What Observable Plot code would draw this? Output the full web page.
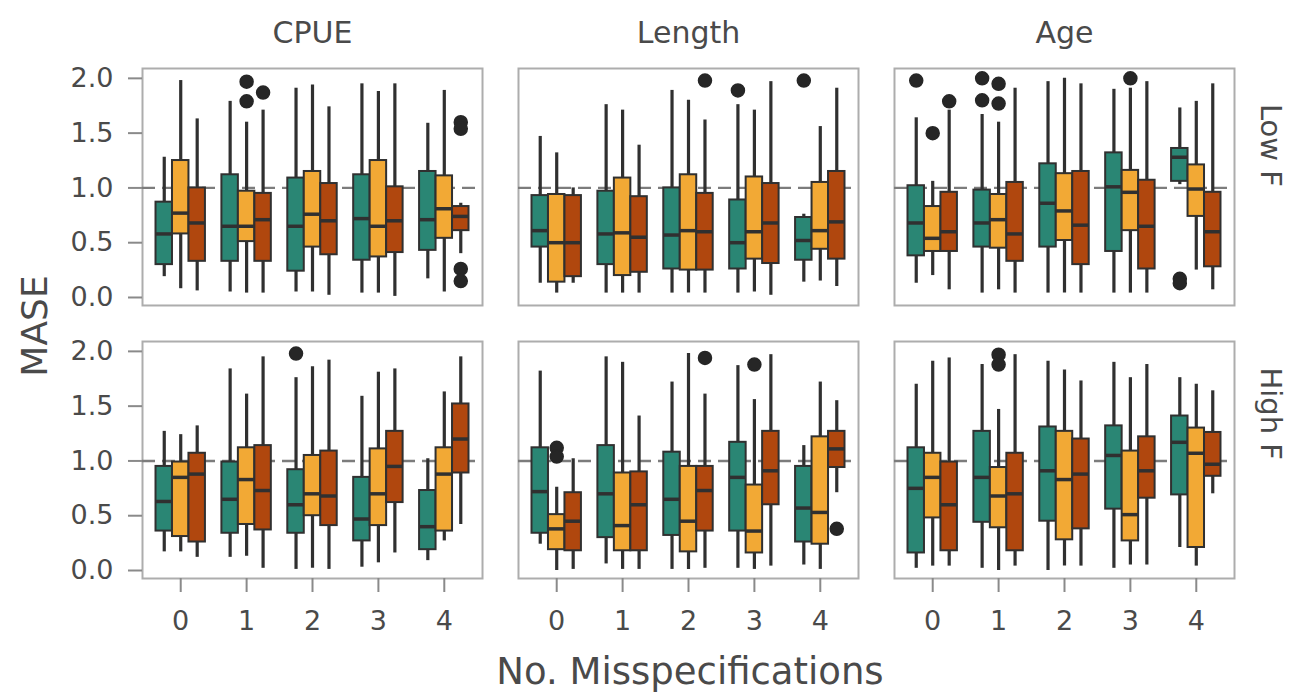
<!DOCTYPE html>
<html>
<head>
<meta charset="utf-8">
<script src="https://cdn.jsdelivr.net/npm/d3@7"></script>
<script src="https://cdn.jsdelivr.net/npm/@observablehq/plot@0.6"></script>
<style>
  html, body { margin: 0; padding: 0; background: #fff; }
  #chart { width: 1304px; height: 696px; }
</style>
</head>
<body>
<div id="chart"></div>
<script>
// Facet layout: columns are data sources, rows are fishing levels
const metrics = ["CPUE", "Length", "Age"];
const fLevels = ["Low F", "High F"];
const misspec = [0, 1, 2, 3, 4];
const variants = ["A", "B", "C"];
const yTicks = [0, 0.5, 1, 1.5, 2];

// Box statistics per misspecification count, three variants each:
// [lower whisker, q1, median, q3, upper whisker]
const cpueLowF = [
  [0.19, 0.30, 0.58, 0.87, 1.28], [0.08, 0.58, 0.77, 1.25, 1.98], [0.06, 0.33, 0.68, 1.00, 1.63],
  [0.05, 0.33, 0.65, 1.12, 1.79], [0.04, 0.51, 0.65, 0.97, 1.60], [0.04, 0.33, 0.71, 0.95, 1.71],
  [0.05, 0.24, 0.65, 1.09, 1.91], [0.05, 0.46, 0.76, 1.15, 1.94], [0.02, 0.39, 0.70, 1.04, 1.74],
  [0.04, 0.34, 0.72, 1.12, 1.95], [0.04, 0.37, 0.65, 1.25, 1.88], [0.01, 0.41, 0.70, 1.01, 1.95],
  [0.17, 0.43, 0.71, 1.15, 1.59], [0.05, 0.54, 0.81, 1.11, 1.89], [0.40, 0.61, 0.74, 0.83, 0.86]
];
const lengthLowF = [
  [0.13, 0.46, 0.61, 0.93, 1.47], [0.04, 0.14, 0.50, 0.94, 1.32], [0.13, 0.19, 0.50, 0.93, 1.00],
  [0.04, 0.30, 0.58, 0.97, 1.76], [0.04, 0.20, 0.59, 1.09, 1.71], [0.04, 0.23, 0.55, 0.92, 1.39],
  [0.04, 0.26, 0.57, 1.00, 1.89], [0.04, 0.25, 0.61, 1.12, 1.80], [0.04, 0.25, 0.60, 0.95, 1.62],
  [0.04, 0.26, 0.50, 0.89, 1.76], [0.05, 0.35, 0.60, 1.10, 1.71], [0.02, 0.31, 0.68, 1.04, 1.97],
  [0.14, 0.34, 0.52, 0.73, 0.76], [0.15, 0.44, 0.61, 1.05, 1.56], [0.10, 0.35, 0.69, 1.15, 1.91]
];
const ageLowF = [
  [0.13, 0.38, 0.68, 1.02, 1.64], [0.20, 0.42, 0.54, 0.83, 1.06], [0.07, 0.42, 0.60, 0.96, 1.71],
  [0.04, 0.46, 0.68, 0.98, 1.67], [0.07, 0.45, 0.71, 0.94, 1.60], [0.04, 0.33, 0.58, 1.05, 1.91],
  [0.04, 0.46, 0.86, 1.22, 1.97], [0.04, 0.52, 0.79, 1.13, 2.00], [0.04, 0.30, 0.66, 1.15, 1.95],
  [0.04, 0.42, 1.01, 1.32, 1.90], [0.04, 0.61, 0.96, 1.16, 1.91], [0.04, 0.26, 0.65, 1.07, 1.97],
  [1.03, 1.06, 1.28, 1.36, 1.73], [0.25, 0.74, 0.99, 1.21, 1.79], [0.07, 0.28, 0.60, 0.96, 1.95]
];
const cpueHighF = [
  [0.17, 0.36, 0.63, 0.95, 1.27], [0.17, 0.31, 0.85, 0.99, 1.24], [0.12, 0.26, 0.88, 1.07, 1.32],
  [0.12, 0.34, 0.65, 0.99, 1.84], [0.13, 0.42, 0.83, 1.12, 1.61], [0.02, 0.37, 0.73, 1.14, 1.95],
  [0.01, 0.34, 0.60, 0.92, 1.76], [0.02, 0.50, 0.70, 1.05, 1.86], [0.01, 0.41, 0.68, 1.09, 1.92],
  [0.03, 0.27, 0.47, 0.85, 1.59], [0.07, 0.41, 0.70, 1.11, 1.81], [0.16, 0.62, 0.95, 1.27, 1.84],
  [0.09, 0.19, 0.40, 0.73, 1.02], [0.27, 0.36, 0.88, 1.12, 1.63], [0.42, 0.89, 1.20, 1.52, 1.95]
];
const lengthHighF = [
  [0.24, 0.34, 0.72, 1.12, 1.82], [0.00, 0.19, 0.38, 0.51, 0.76], [0.01, 0.18, 0.45, 0.71, 1.02],
  [0.06, 0.30, 0.70, 1.14, 1.95], [0.01, 0.18, 0.41, 0.89, 1.90], [0.01, 0.18, 0.60, 0.90, 1.41],
  [0.01, 0.32, 0.65, 1.08, 1.72], [0.01, 0.17, 0.45, 0.95, 1.98], [0.02, 0.36, 0.73, 0.95, 1.61],
  [0.02, 0.36, 0.85, 1.17, 1.87], [0.01, 0.16, 0.36, 0.78, 1.56], [0.04, 0.60, 0.91, 1.27, 1.97],
  [0.05, 0.26, 0.57, 0.95, 1.14], [0.01, 0.24, 0.53, 1.22, 1.72], [0.71, 0.94, 1.11, 1.27, 1.55]
];
const ageHighF = [
  [0.02, 0.16, 0.75, 1.12, 1.70], [0.04, 0.48, 0.85, 1.07, 1.91], [0.04, 0.18, 0.60, 0.99, 1.94],
  [0.02, 0.44, 0.85, 1.27, 1.88], [0.00, 0.39, 0.68, 0.94, 1.47], [0.04, 0.18, 0.70, 1.07, 1.97],
  [0.00, 0.45, 0.91, 1.31, 1.91], [0.04, 0.28, 0.83, 1.27, 1.83], [0.04, 0.38, 0.88, 1.20, 1.73],
  [0.02, 0.56, 1.05, 1.32, 1.90], [0.05, 0.27, 0.51, 1.09, 1.76], [0.05, 0.66, 0.91, 1.22, 1.88],
  [0.21, 0.69, 1.17, 1.41, 1.76], [0.04, 0.21, 1.07, 1.30, 1.70], [0.70, 0.86, 0.97, 1.26, 1.64]
];

// Outliers: [source, fishing level, misspecifications, variant index, MASE]
const outlierPoints = [
  ["CPUE", "Low F", 1, 1, 1.97], ["CPUE", "Low F", 1, 1, 1.79], ["CPUE", "Low F", 1, 2, 1.87],
  ["CPUE", "Low F", 4, 2, 1.60], ["CPUE", "Low F", 4, 2, 1.54], ["CPUE", "Low F", 4, 2, 0.26], ["CPUE", "Low F", 4, 2, 0.15],
  ["Length", "Low F", 2, 2, 1.98], ["Length", "Low F", 3, 0, 1.89], ["Length", "Low F", 4, 0, 1.98],
  ["Age", "Low F", 0, 0, 1.98], ["Age", "Low F", 0, 1, 1.50], ["Age", "Low F", 0, 2, 1.79],
  ["Age", "Low F", 1, 0, 2.00], ["Age", "Low F", 1, 0, 1.80], ["Age", "Low F", 1, 1, 1.95], ["Age", "Low F", 1, 1, 1.77],
  ["Age", "Low F", 3, 1, 2.00], ["Age", "Low F", 4, 0, 0.17], ["Age", "Low F", 4, 0, 0.13],
  ["CPUE", "High F", 2, 0, 1.98],
  ["Length", "High F", 0, 1, 1.12], ["Length", "High F", 0, 1, 1.04], ["Length", "High F", 2, 2, 1.94],
  ["Length", "High F", 3, 1, 1.88], ["Length", "High F", 4, 2, 0.38],
  ["Age", "High F", 1, 1, 1.97], ["Age", "High F", 1, 1, 1.88]
];

const palette = ["#2a8674", "#f2a935", "#b0470e"];
const boxWidth = 0.25;
const dodgeStep = 0.25;

const panelStats = [
  ["CPUE", "Low F", cpueLowF], ["Length", "Low F", lengthLowF], ["Age", "Low F", ageLowF],
  ["CPUE", "High F", cpueHighF], ["Length", "High F", lengthHighF], ["Age", "High F", ageHighF]
];

const boxes = panelStats.flatMap(([metric, f, stats]) =>
  stats.map((s, i) => ({
    metric, f,
    group: misspec[Math.floor(i / 3)],
    vi: i % 3,
    variant: variants[i % 3],
    lo: s[0], q1: s[1], med: s[2], q3: s[3], hi: s[4]
  }))
);
const outliers = outlierPoints.map(([metric, f, group, vi, value]) => ({metric, f, group, vi, value}));

const center = d => d.group + (d.vi - 1) * dodgeStep;
const left = d => center(d) - boxWidth / 2;
const right = d => center(d) + boxWidth / 2;

const textColor = "#4a4a4a";
const edge = "#303030";

const chart = Plot.plot({
  width: 1304,
  height: 696,
  marginLeft: 142,
  marginRight: 70,
  marginTop: 68,
  marginBottom: 118,
  style: {fontFamily: "'DejaVu Sans', sans-serif", fontSize: "27px", color: textColor, background: "#fff", overflow: "visible"},
  fx: {domain: metrics, paddingInner: 0.0957, paddingOuter: 0, round: false, axis: null},
  fy: {domain: fLevels, paddingInner: 0.132, paddingOuter: 0, round: false, axis: null},
  x: {domain: [-0.58, 4.58], axis: null},
  y: {domain: [-0.073, 2.09], axis: null},
  color: {domain: variants, range: palette},
  marks: [
    Plot.frame({stroke: "#adadad", strokeWidth: 2}),
    Plot.ruleY([1], {stroke: "#7c7c7c", strokeWidth: 2.4, strokeDasharray: "13,7"}),
    Plot.ruleX(boxes, {fx: "metric", fy: "f", x: center, y1: "lo", y2: "hi", stroke: edge, strokeWidth: 3.2}),
    Plot.rect(boxes, {fx: "metric", fy: "f", x1: left, x2: right, y1: "q1", y2: "q3", fill: "variant", stroke: edge, strokeWidth: 2}),
    Plot.ruleY(boxes, {fx: "metric", fy: "f", x1: left, x2: right, y: "med", stroke: edge, strokeWidth: 3.5}),
    Plot.dot(outliers, {fx: "metric", fy: "f", x: center, y: "value", r: 6.5, fill: "#262626", stroke: "#262626"}),
    Plot.axisX(misspec, {anchor: "bottom", tickSize: 14, tickPadding: 18, fontSize: 27, stroke: "#8a8a8a", fill: textColor, strokeWidth: 2, tickFormat: d => String(d), label: null}),
    Plot.axisY(yTicks, {anchor: "left", tickSize: 14, tickPadding: 15, fontSize: 27, stroke: "#8a8a8a", fill: textColor, strokeWidth: 2, tickFormat: d3.format(".1f"), label: null}),
    Plot.text(metrics.map(m => ({metric: m, f: fLevels[0]})), {fx: "metric", fy: "f", text: "metric", frameAnchor: "top", dy: -26, lineAnchor: "bottom", fontSize: 30, fill: textColor}),
    Plot.text(fLevels.map(f => ({metric: metrics[2], f})), {fx: "metric", fy: "f", text: "f", frameAnchor: "right", dx: 36, rotate: 90, fontSize: 29, fill: textColor})
  ]
});

// Shared axis titles spanning all panels
const svg = d3.select(chart);
svg.append("text")
  .attr("x", 690).attr("y", 684)
  .attr("text-anchor", "middle")
  .attr("font-family", "'DejaVu Sans', sans-serif")
  .attr("font-size", 37).attr("fill", textColor)
  .text("No. Misspecifications");
svg.append("text")
  .attr("transform", "translate(47,326) rotate(-90)")
  .attr("text-anchor", "middle")
  .attr("font-family", "'DejaVu Sans', sans-serif")
  .attr("font-size", 36).attr("fill", textColor)
  .text("MASE");

document.getElementById("chart").appendChild(chart);
</script>
</body>
</html>
